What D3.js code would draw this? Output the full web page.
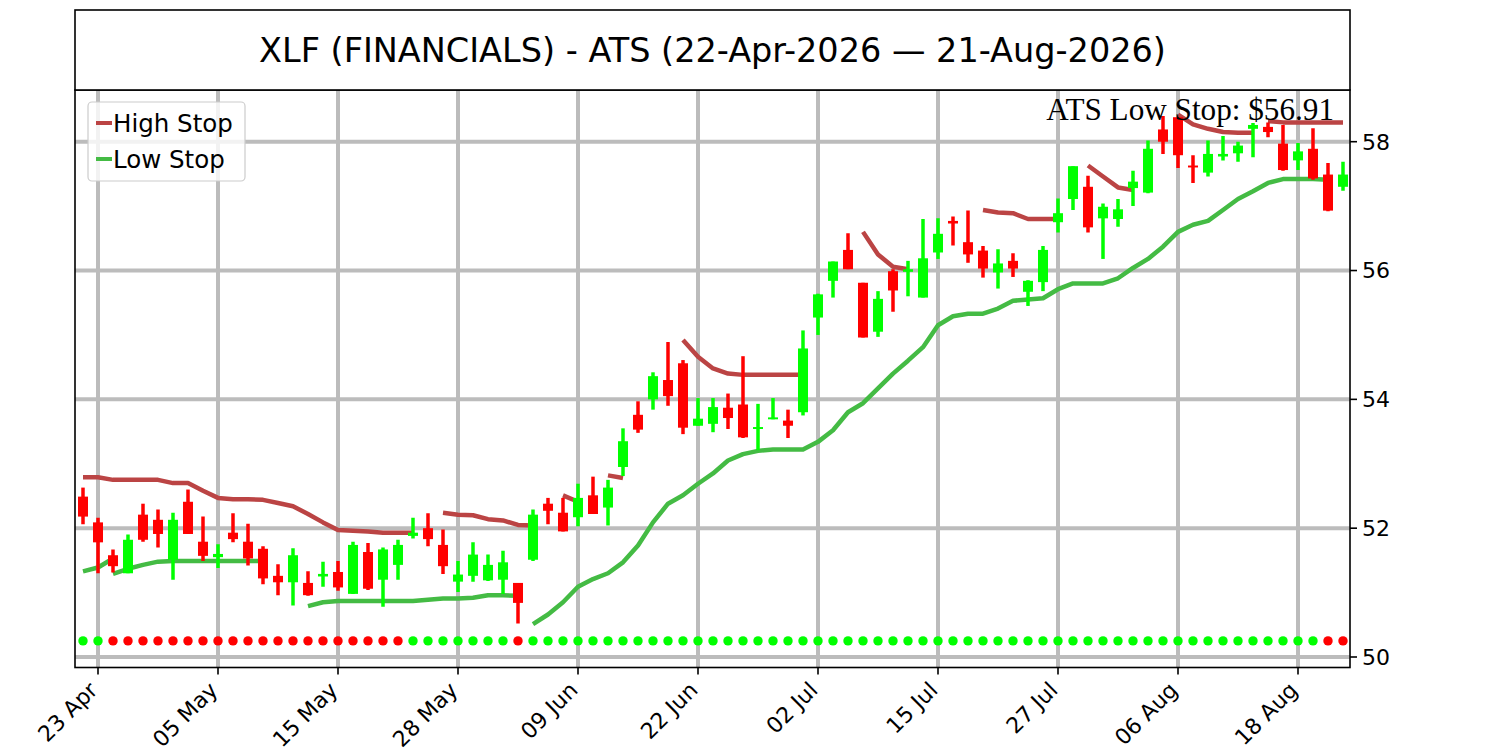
<!DOCTYPE html>
<html><head><meta charset="utf-8">
<script src="https://cdn.jsdelivr.net/npm/d3@7/dist/d3.min.js"></script>
<style>body{margin:0;background:#fff} svg{display:block}</style>
</head><body>
<svg id="chart" width="1500" height="750"></svg>
<script>
// ---------- DATA ----------
const dates = ["2026-04-22","2026-04-23","2026-04-24","2026-04-27","2026-04-28","2026-04-29","2026-04-30","2026-05-01",
"2026-05-04","2026-05-05","2026-05-06","2026-05-07","2026-05-08","2026-05-11","2026-05-12","2026-05-13","2026-05-14","2026-05-15",
"2026-05-18","2026-05-19","2026-05-20","2026-05-21","2026-05-22","2026-05-26","2026-05-27","2026-05-28","2026-05-29",
"2026-06-01","2026-06-02","2026-06-03","2026-06-04","2026-06-05","2026-06-08","2026-06-09","2026-06-10","2026-06-11","2026-06-12",
"2026-06-15","2026-06-16","2026-06-17","2026-06-18","2026-06-22","2026-06-23","2026-06-24","2026-06-25","2026-06-26",
"2026-06-29","2026-06-30","2026-07-01","2026-07-02","2026-07-06","2026-07-07","2026-07-08","2026-07-09","2026-07-10",
"2026-07-13","2026-07-14","2026-07-15","2026-07-16","2026-07-17","2026-07-20","2026-07-21","2026-07-22","2026-07-23","2026-07-24",
"2026-07-27","2026-07-28","2026-07-29","2026-07-30","2026-07-31","2026-08-03","2026-08-04","2026-08-05","2026-08-06","2026-08-07",
"2026-08-10","2026-08-11","2026-08-12","2026-08-13","2026-08-14","2026-08-17","2026-08-18","2026-08-19","2026-08-20","2026-08-21"];

const opens  = [52.49,52.09,51.58,51.30,52.21,52.13,51.51,52.41,51.79,51.55,51.93,51.79,51.68,51.26,51.16,51.15,51.25,51.32,50.98,51.63,
51.20,51.43,51.88,52.00,51.74,51.17,51.26,51.19,51.20,51.15,51.51,52.38,52.24,52.17,52.51,52.32,52.95,53.76,54.00,54.30,
54.56,53.59,53.62,53.87,53.92,53.54,53.69,53.67,53.80,55.27,55.84,56.32,55.81,55.05,55.99,55.98,55.58,56.28,56.77,56.44,
56.31,55.97,56.15,55.67,55.82,56.75,57.11,57.30,56.81,56.80,57.28,57.21,58.19,58.38,57.63,57.52,57.77,57.82,58.20,58.23,
57.97,57.71,57.89,57.49,57.30];
const highs  = [52.63,52.16,51.67,51.90,52.38,52.29,52.24,52.60,52.18,51.75,52.23,52.07,51.72,51.44,51.69,51.33,51.48,51.49,51.79,51.77,
51.70,51.82,52.16,52.23,51.98,51.49,51.78,51.59,51.65,51.15,52.29,52.47,52.47,52.69,52.80,52.75,53.55,53.97,54.42,54.89,
54.61,54.02,54.02,54.09,54.67,53.93,54.02,53.84,55.07,55.64,56.14,56.58,55.81,55.68,56.02,56.15,56.80,56.81,56.84,56.93,
56.38,56.33,56.27,55.85,56.38,57.12,57.62,57.47,57.04,57.11,57.55,58.02,58.40,58.38,57.79,58.02,58.09,58.00,58.29,58.30,
58.26,57.98,58.21,57.67,57.69];
const lows   = [52.06,51.30,51.31,51.30,51.79,51.70,51.20,51.91,51.49,51.38,51.78,51.42,51.13,50.96,50.80,50.95,51.09,51.03,50.98,51.04,
50.78,51.20,51.84,51.72,51.29,51.01,51.17,51.18,50.98,50.52,51.49,52.06,51.95,52.03,52.22,52.04,52.81,53.48,53.84,53.90,
53.46,53.59,53.49,53.54,53.40,53.21,53.69,53.40,53.75,55.00,55.58,56.02,54.96,54.97,55.36,55.60,55.58,56.18,56.39,56.12,
55.89,55.72,55.90,55.45,55.68,56.59,56.94,56.59,56.18,56.68,57.00,57.20,57.81,57.59,57.36,57.46,57.71,57.69,57.76,58.07,
57.55,57.56,57.41,56.92,57.24];
const closes = [52.18,51.78,51.41,51.82,51.82,51.91,52.13,51.91,51.57,51.60,51.83,51.53,51.22,51.16,51.58,50.96,51.29,51.08,51.74,51.06,
51.67,51.74,51.93,51.83,51.41,51.28,51.59,51.43,51.47,50.84,52.21,52.27,51.95,52.47,52.22,52.63,53.35,53.53,54.36,54.05,
53.56,53.70,53.88,53.71,53.41,53.57,53.72,53.59,54.79,55.63,56.14,56.02,54.96,55.56,55.69,56.02,56.19,56.57,56.73,56.25,
56.03,56.11,56.03,55.84,56.32,56.89,57.62,56.67,56.99,56.95,57.38,57.89,58.00,57.79,57.60,57.81,57.81,57.94,58.26,58.15,
57.56,57.85,57.43,56.93,57.49];

// daily ATS state dots: "G" = long / green, "R" = short / red
const signals = ["G","G","R","R","R","R","R","R","R","R","R","R","R","R","R","R","R","R","R","R","R","R",
"G","G","G","G","G","G","G","R",
"G","G","G","G","G","G","G","G","G","G","G","G","G","G","G","G","G","G","G","G","G","G","G","G","G","G","G","G","G","G",
"G","G","G","G","G","G","G","G","G","G","G","G","G","G","G","G","G","G","G","G","G","G","G","R","R"];

// stop lines, each segment starts at a day index
const highStopSegments = [
  {start:0,  values:[52.79,52.79,52.75,52.75,52.75,52.75,52.70,52.70,52.58,52.47,52.45,52.45,52.44,52.39,52.34,52.22,52.09,51.97,51.96,51.95,51.93,51.93,51.93]},
  {start:24, values:[52.24,52.21,52.20,52.14,52.12,52.05,52.04]},
  {start:32, values:[52.51,52.41]},
  {start:35, values:[52.82,52.78]},
  {start:40, values:[54.92,54.66,54.48,54.40,54.38,54.38,54.38,54.38,54.38]},
  {start:52, values:[56.60,56.25,56.06,56.02]},
  {start:60, values:[56.94,56.90,56.89,56.80,56.80,56.80]},
  {start:67, values:[57.63,57.46,57.29,57.25]},
  {start:73, values:[58.42,58.27,58.20,58.15,58.14,58.14]},
  {start:79, values:[58.32,58.30,58.30,58.30,58.30,58.30]}
];
const lowStopSegments = [
  {start:0,  values:[51.33,51.39,51.53]},
  {start:2,  values:[51.29,51.37,51.43,51.48,51.49,51.49,51.49,51.49,51.49,51.49,51.49]},
  {start:15, values:[50.79,50.85,50.87,50.87,50.87,50.87,50.87,50.87,50.89,50.91,50.91,50.92,50.96,50.96,50.95]},
  {start:30, values:[50.51,50.66,50.85,51.09,51.21,51.30,51.47,51.73,52.09,52.38,52.51,52.69,52.85,53.05,53.15,53.20,53.22,53.22,53.22,
    53.34,53.52,53.80,53.94,54.17,54.40,54.60,54.81,55.15,55.29,55.33,55.33,55.41,55.53,55.55,55.57,55.71,55.80,55.80,55.80,55.88,
    56.04,56.18,56.37,56.60,56.71,56.77,56.94,57.11,57.23,57.36,57.42,57.42,57.42,57.41]}
];

const yTicks = [50, 52, 54, 56, 58];
const xTickDates  = ["2026-04-23","2026-05-05","2026-05-15","2026-05-28","2026-06-09","2026-06-22","2026-07-02","2026-07-15","2026-07-27","2026-08-06","2026-08-18"];
const xTickLabels = ["23 Apr","05 May","15 May","28 May","09 Jun","22 Jun","02 Jul","15 Jul","27 Jul","06 Aug","18 Aug"];
const titleText = "XLF (FINANCIALS) - ATS (22-Apr-2026 \u2014 21-Aug-2026)";
const stopLabel = "ATS Low Stop: $56.91";
const signalLevel = 50.25;
const legendItems = [{name:"High Stop", color:"#bb4444"}, {name:"Low Stop", color:"#44bb44"}];

// ---------- LAYOUT ----------
const L = 75, R = 1350, T = 90, B = 667.5;
const UP = "#00ff00", DOWN = "#ff0000", HIGHC = "#bb4444", LOWC = "#44bb44";
const svg = d3.select("#chart");
const x = d3.scaleLinear().domain([-0.5, dates.length - 0.5]).range([L + 0.5, R + 0.5]);
const y = d3.scaleLinear().domain([50, 58]).range([657, 141.7]);

svg.append("defs").append("clipPath").attr("id","plotclip")
  .append("rect").attr("x",L).attr("y",T).attr("width",R-L).attr("height",B-T);

const g = svg.append("g").attr("clip-path","url(#plotclip)");

// grid
const tickIdx = xTickDates.map(d => dates.indexOf(d));
g.selectAll("line.vg").data(tickIdx).join("line")
  .attr("x1", d => x(d)).attr("x2", d => x(d)).attr("y1", T).attr("y2", B)
  .attr("stroke", "#bcbcbc").attr("stroke-width", 4);
g.selectAll("line.hg").data(yTicks).join("line")
  .attr("x1", L).attr("x2", R).attr("y1", d => y(d)).attr("y2", d => y(d))
  .attr("stroke", "#bcbcbc").attr("stroke-width", 4);

// stop lines
const line = d3.line().x(d => x(d[0])).y(d => y(d[1]));
function drawSegs(segs, color){
  segs.forEach(s => {
    const pts = s.values.map((v,k) => [s.start + k, v]);
    g.append("path").attr("d", line(pts)).attr("fill","none")
      .attr("stroke", color).attr("stroke-width", 4.5).attr("stroke-linejoin","round");
  });
}
drawSegs(highStopSegments, HIGHC);
drawSegs(lowStopSegments, LOWC);

// candles
const candles = dates.map((d,i) => ({i, o:opens[i], h:highs[i], l:lows[i], c:closes[i]}));
const cg = g.append("g");
cg.selectAll("line.wick").data(candles).join("line")
  .attr("x1", d => x(d.i)).attr("x2", d => x(d.i))
  .attr("y1", d => y(d.h)).attr("y2", d => y(d.l))
  .attr("stroke", d => d.c >= d.o ? UP : DOWN).attr("stroke-width", 3.5);
cg.selectAll("rect.body").data(candles).join("rect")
  .attr("x", d => x(d.i) - 5).attr("width", 10)
  .attr("y", d => y(Math.max(d.o, d.c)))
  .attr("height", d => Math.max(1.5, Math.abs(y(d.o) - y(d.c))))
  .attr("fill", d => d.c >= d.o ? UP : DOWN);

// signal dots
g.selectAll("circle.sig").data(signals).join("circle")
  .attr("cx", (d,i) => x(i)).attr("cy", y(signalLevel)).attr("r", 4.7)
  .attr("fill", d => d === "G" ? UP : DOWN);

// stop label
svg.append("text").attr("x", 1334).attr("y", 120).attr("text-anchor","end")
  .attr("font-family","'Liberation Serif','Times New Roman',serif").attr("font-size", 31.2)
  .attr("fill","#000").text(stopLabel);

// spines
svg.append("rect").attr("x", L).attr("y", T).attr("width", R-L).attr("height", B-T)
  .attr("fill","none").attr("stroke","#000").attr("stroke-width",1.6);

// x ticks
const ax = svg.append("g").attr("font-family","'DejaVu Sans',sans-serif").attr("font-size",22);
tickIdx.forEach((t,k) => {
  ax.append("line").attr("x1", x(t)).attr("x2", x(t)).attr("y1", B).attr("y2", B+7)
    .attr("stroke","#000").attr("stroke-width",1.6);
  ax.append("text").attr("transform", `translate(${x(t)+1},${B+24}) rotate(-45)`)
    .attr("text-anchor","end").attr("fill","#000").text(xTickLabels[k]);
});
// y ticks (right)
yTicks.forEach(v => {
  ax.append("line").attr("x1", R).attr("x2", R+7).attr("y1", y(v)).attr("y2", y(v))
    .attr("stroke","#000").attr("stroke-width",1.6);
  ax.append("text").attr("x", R+12).attr("y", y(v)).attr("dy","0.36em")
    .attr("fill","#000").text(v);
});

// legend
const lg = svg.append("g").attr("font-family","'DejaVu Sans',sans-serif").attr("font-size",24.5);
lg.append("rect").attr("x",88).attr("y",102).attr("width",157).attr("height",79).attr("rx",4)
  .attr("fill","#fff").attr("fill-opacity",0.8).attr("stroke","#cccccc").attr("stroke-width",1.2);
legendItems.forEach((it,k) => {
  const yy = 123 + k*36;
  lg.append("line").attr("x1",96).attr("x2",112).attr("y1",yy).attr("y2",yy)
    .attr("stroke",it.color).attr("stroke-width",4);
  lg.append("text").attr("x",113).attr("y",yy).attr("dy","0.36em").attr("fill","#000").text(it.name);
});

// title box
svg.append("rect").attr("x", L).attr("y", 10).attr("width", R-L).attr("height", 80)
  .attr("fill","#fff").attr("stroke","#000").attr("stroke-width",1.6);
svg.append("text").attr("x", (L+R)/2).attr("y", 62).attr("text-anchor","middle")
  .attr("font-family","'DejaVu Sans',sans-serif").attr("font-size",33.5).attr("fill","#000").text(titleText);
</script>
</body></html>
